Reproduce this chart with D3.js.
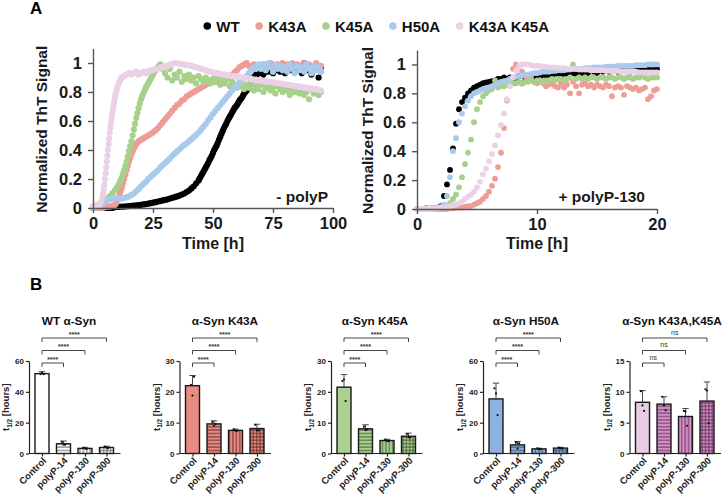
<!DOCTYPE html>
<html><head><meta charset="utf-8">
<script src="https://cdn.jsdelivr.net/npm/d3@7/dist/d3.min.js"></script>
<style>
body{margin:0;background:#fff}
svg{display:block}
text{font-family:"Liberation Sans",Arial,Helvetica,sans-serif}
</style>
</head><body>
<svg id="c" width="724" height="497"></svg>
<script>
// ---------- DATA: panel A (kinetics) ----------
const seriesNames = ["WT","K43A","K45A","H50A","K43A K45A"];
const seriesColors = ["#000000","#EE9D96","#A7D08B","#A8CAEC","#EBD1E5"];

const timesNoPolyP = d3.range(0, 96, 1); // hours, sampling grid
const wtNoPolyP = [0,0,0,0,0,0,0,0,0,0.005,
 0.007,0.008,0.01,0.01,0.012,0.013,0.015,0.017,0.018,0.02,
 0.022,0.025,0.027,0.03,0.033,0.037,0.04,0.044,0.048,0.052,
 0.056,0.06,0.065,0.07,0.075,0.08,0.086,0.093,0.1,0.11,
 0.12,0.135,0.15,0.17,0.19,0.22,0.25,0.28,0.31,0.345,
 0.38,0.415,0.45,0.49,0.53,0.565,0.6,0.63,0.66,0.69,
 0.71,0.74,0.76,0.79,0.81,0.84,0.87,0.9,0.92,0.93,
 0.95,0.92,0.96,0.94,0.97,0.93,0.95,0.98,0.94,0.96,
 0.93,0.97,0.95,0.99,0.94,0.96,0.98,0.93,1.0,0.95,
 0.97,0.92,0.98,0.96,0.9,0.97];
const k43aNoPolyP = [0,0,0,0,0,0.005,0.01,0.01,0.015,0.02,
 0.05,0.09,0.14,0.2,0.26,0.32,0.37,0.41,0.44,0.46,
 0.47,0.48,0.49,0.5,0.51,0.52,0.535,0.55,0.57,0.59,
 0.61,0.63,0.65,0.67,0.69,0.71,0.72,0.74,0.75,0.77,
 0.78,0.79,0.8,0.81,0.82,0.83,0.84,0.85,0.86,0.865,
 0.87,0.875,0.88,0.885,0.89,0.895,0.9,0.91,0.92,0.935,
 0.95,0.97,0.98,0.99,1.0,0.98,0.97,0.99,0.98,0.97,
 0.98,0.99,0.97,0.98,1.0,0.98,0.97,0.99,0.98,1.0,
 0.97,0.99,0.98,1.0,0.97,0.99,0.98,0.97,1.0,0.98,
 0.99,0.97,0.98,1.0,0.97,0.98];
const k45aNoPolyP = [0.01,0.015,0.02,0.03,0.04,0.05,0.065,0.08,0.1,0.12,
 0.14,0.17,0.21,0.26,0.32,0.39,0.46,0.54,0.62,0.69,
 0.75,0.79,0.83,0.86,0.89,0.92,0.95,0.97,0.99,0.96,
 0.93,0.9,0.96,0.88,0.92,0.9,0.94,0.87,0.91,0.89,
 0.92,0.88,0.9,0.86,0.91,0.89,0.87,0.9,0.88,0.86,
 0.89,0.87,0.9,0.85,0.88,0.86,0.89,0.84,0.87,0.85,
 0.83,0.86,0.84,0.82,0.85,0.83,0.86,0.81,0.84,0.82,
 0.85,0.8,0.83,0.84,0.81,0.83,0.79,0.84,0.82,0.8,
 0.83,0.81,0.78,0.82,0.8,0.83,0.79,0.81,0.78,0.8,
 0.75,0.82,0.79,0.81,0.78,0.8];
const h50aNoPolyP = [0,0.005,0.01,0.02,0.03,0.045,0.055,0.06,0.065,0.065,
 0.065,0.065,0.066,0.07,0.075,0.08,0.09,0.1,0.115,0.13,
 0.15,0.165,0.18,0.2,0.215,0.23,0.245,0.26,0.28,0.295,
 0.31,0.325,0.34,0.36,0.375,0.39,0.405,0.42,0.435,0.445,
 0.46,0.475,0.49,0.505,0.52,0.54,0.56,0.58,0.605,0.625,
 0.65,0.67,0.69,0.71,0.73,0.75,0.77,0.79,0.81,0.83,
 0.85,0.865,0.88,0.895,0.91,0.93,0.95,0.97,0.96,0.99,
 0.96,0.99,0.95,1.0,0.97,0.94,0.99,0.96,0.98,0.95,
 0.97,0.94,0.99,0.96,0.93,0.98,0.95,0.97,0.94,0.99,
 0.96,0.93,0.98,0.95,0.97,0.94];
const k43ak45aNoPolyP = [0.01,0.01,0.015,0.03,0.08,0.2,0.36,0.52,0.65,0.75,
 0.82,0.87,0.9,0.91,0.92,0.93,0.92,0.93,0.94,0.92,
 0.93,0.94,0.93,0.94,0.95,0.95,0.96,0.96,0.97,0.97,
 0.98,0.98,0.99,0.99,1.0,1.0,0.995,0.99,0.99,0.985,
 0.985,0.98,0.975,0.97,0.965,0.96,0.955,0.95,0.945,0.94,
 0.935,0.93,0.93,0.925,0.92,0.92,0.915,0.915,0.91,0.91,
 0.905,0.905,0.9,0.9,0.895,0.89,0.89,0.885,0.885,0.88,
 0.88,0.875,0.875,0.87,0.87,0.865,0.865,0.86,0.86,0.855,
 0.855,0.85,0.85,0.845,0.84,0.84,0.835,0.835,0.83,0.83,
 0.825,0.825,0.82,0.82,0.815,0.81];

// extra readings taken between grid points on the steep rising phases
const wtNoPolyPExtraTimes = d3.range(44.5, 69, 1);
const wtNoPolyPExtra = [0.205,0.235,0.265,0.295,0.33,0.36,0.4,0.43,0.47,0.51,0.55,0.58,0.615,
 0.645,0.675,0.7,0.725,0.75,0.775,0.8,0.825,0.855,0.885,0.91,0.925];
const k43aNoPolyPExtraTimes = d3.range(9.5, 20, 1);
const k43aNoPolyPExtra = [0.03,0.07,0.115,0.17,0.23,0.29,0.345,0.39,0.425,0.45,0.465];
const k45aNoPolyPExtraTimes = d3.range(10.5, 29, 1);
const k45aNoPolyPExtra = [0.155,0.19,0.235,0.29,0.355,0.425,0.5,0.58,0.655,0.72,0.77,0.81,
 0.845,0.875,0.905,0.935,0.96,0.98,0.975];
const k43ak45aNoPolyPExtraTimes = [2.5,3.5,4.25,4.5,4.75,5.25,5.5,5.75,6.25,6.5,6.75,7.25,7.5,7.75,
 8.25,8.5,8.75,9.25,9.5,9.75,10.5,11.5,12.5];
const k43ak45aNoPolyPExtra = [0.02,0.05,0.1,0.13,0.16,0.24,0.28,0.32,0.4,0.44,0.48,0.555,0.59,0.62,
 0.675,0.7,0.725,0.77,0.79,0.805,0.85,0.89,0.905];

const timesPolyP130 = d3.range(0, 20.01, 0.25); // hours, sampling grid
const wtPolyP130 = [0,0,0,0.005,0,0.005,0.005,0.01,
 0.02,0.09,0.17,0.27,0.42,0.59,0.69,0.74,0.77,0.8,0.82,0.84,
 0.85,0.86,0.87,0.875,0.88,0.885,0.89,0.9,0.9,0.91,0.9,0.91,
 0.88,0.9,0.92,0.87,0.91,0.89,0.92,0.9,0.92,0.91,0.93,0.92,
 0.93,0.92,0.94,0.93,0.92,0.94,0.93,0.95,0.94,0.93,0.95,0.94,
 0.95,0.94,0.96,0.95,0.94,0.96,0.95,0.96,0.95,0.97,0.96,0.95,
 0.96,0.97,0.96,0.95,0.97,0.96,0.97,0.96,0.98,0.97,0.96,0.97,
 0.97];
const k43aPolyP130 = [0,0,0,0,0,0,0,0,
 0,0,0,0.005,0.005,0.01,0.01,0.01,0.015,0.02,0.02,0.03,
 0.04,0.05,0.07,0.09,0.12,0.16,0.21,0.29,0.39,0.56,0.75,0.88,
 0.97,1.0,0.99,0.95,0.92,0.9,0.91,0.88,0.87,0.89,0.87,0.85,
 0.86,0.87,0.85,0.84,0.87,0.84,0.86,0.8,0.88,0.85,0.8,0.86,
 0.87,0.85,0.86,0.84,0.86,0.85,0.84,0.86,0.85,0.78,0.84,0.85,
 0.84,0.79,0.85,0.84,0.83,0.84,0.82,0.83,0.84,0.76,0.78,0.82,
 0.83];
const k45aPolyP130 = [0,0,0,0,0.005,0.005,0.01,0.01,
 0.01,0.015,0.02,0.04,0.07,0.1,0.15,0.22,0.31,0.39,0.48,0.6,
 0.69,0.74,0.78,0.8,0.82,0.83,0.89,0.84,0.85,0.85,0.86,0.86,
 0.87,0.87,0.88,0.87,0.88,0.88,0.89,0.88,0.89,0.89,0.88,0.89,
 0.89,0.9,0.89,0.9,0.9,0.89,0.9,0.91,1.0,0.9,0.91,0.9,
 0.91,0.9,0.91,0.91,0.9,0.91,0.91,0.9,0.91,0.91,0.9,0.91,
 0.91,0.9,0.91,0.91,0.9,0.91,0.91,0.92,0.91,0.9,0.91,0.91,
 0.91];
const h50aPolyP130 = [0,0,0,0,0,0.005,0.005,0.01,
 0.015,0.03,0.09,0.22,0.4,0.49,0.6,0.66,0.71,0.75,0.78,0.8,
 0.81,0.82,0.83,0.835,0.84,0.85,0.86,0.87,0.88,0.885,0.89,0.9,
 0.91,0.915,0.92,0.925,0.93,0.93,0.935,0.94,0.94,0.945,0.95,0.95,
 0.95,0.955,0.955,0.96,0.96,0.96,0.965,0.965,0.97,0.97,0.97,0.97,
 0.975,0.975,0.975,0.98,0.98,0.98,0.98,0.985,0.985,0.985,0.985,0.99,
 0.99,0.99,0.99,0.99,0.99,0.995,0.995,0.995,0.995,1.0,1.0,1.0,
 1.0];
const k43ak45aPolyP130 = [0,0,0,0,0,0,0.005,0.005,
 0.01,0.01,0.015,0.02,0.025,0.03,0.04,0.05,0.07,0.085,0.1,0.12,
 0.15,0.19,0.24,0.28,0.33,0.38,0.44,0.51,0.58,0.66,0.76,0.85,
 0.91,0.96,0.99,1.0,1.0,1.0,0.995,0.99,0.99,0.99,0.985,0.985,
 0.98,0.98,0.98,0.975,0.975,0.975,0.97,0.97,0.97,0.97,0.965,0.965,
 0.965,0.965,0.96,0.96,0.96,0.96,0.96,0.955,0.955,0.955,0.955,0.955,
 0.95,0.95,0.95,0.95,0.95,0.95,0.945,0.945,0.945,0.945,0.945,0.945,
 0.945];

const xTicksNoPolyP = [0,25,50,75,100];
const xTicksPolyP130 = [0,10,20];
const yTicksSignal = [0,0.2,0.4,0.6,0.8,1];

// ---------- DATA: panel B (t1/2 bars) ----------
const barCategories = ["Control","polyP-14","polyP-130","polyP-300"];
const panelTitles = ["WT α-Syn","α-Syn K43A","α-Syn K45A","α-Syn H50A","α-Syn K43A,K45A"];
const panelYMax = [60,30,30,60,15];
const panelYTicks = [[0,20,40,60],[0,10,20,30],[0,10,20,30],[0,20,40,60],[0,5,10,15]];
const wtMeans = [51.8,6.3,3.3,3.9],   wtSD = [1.2,1.8,0.7,0.8];
const k43aMeans = [22.0,9.6,7.5,8.1], k43aSD = [3.3,1.0,0.4,1.4];
const k45aMeans = [21.5,8.0,4.2,5.6], k45aSD = [4.1,1.3,0.4,1.0];
const h50aMeans = [35.4,5.6,3.0,3.5], h50aSD = [10.2,2.2,0.4,0.5];
const dblMeans = [8.3,8.0,6.0,8.5],   dblSD = [1.9,1.2,1.3,3.1];
const wtReps = [[51.5,52.5,51.4],[7.4,5.8,5.7],[3.7,3.3,2.9],[4.4,3.8,3.5]];
const k43aReps = [[22.3,18.8,24.9],[10.2,9.0,9.6],[7.8,7.4,7.3],[9.3,7.5,7.5]];
const k45aReps = [[23.5,24.0,17.0],[8.7,7.6,7.8],[4.5,4.1,4.0],[6.3,5.3,5.2]];
const h50aReps = [[42.3,39.0,24.9],[7.0,3.2,6.6],[3.3,3.0,2.7],[3.9,3.4,3.2]];
const dblReps = [[10.1,7.8,6.9],[9.2,7.8,7.0],[6.9,6.8,4.5],[10.4,10.2,4.9]];
const sigLabels = ["****","****","****","****","ns"];

// ---------- STYLE / LAYOUT ----------
const svg = d3.select("#c");
const FONT = '"Liberation Sans",Arial,sans-serif';
const axisColor = "#555";

svg.append("text").attr("x",30).attr("y",14).attr("font-size",17).attr("font-weight","bold").text("A");
svg.append("text").attr("x",30).attr("y",290).attr("font-size",17).attr("font-weight","bold").text("B");

// legend
{
  const lg = svg.append("g");
  let x = 207.3;
  seriesNames.forEach((n,i)=>{
    lg.append("circle").attr("cx",x).attr("cy",26).attr("r",3.8).attr("fill",seriesColors[i]);
    const t = lg.append("text").attr("x",x+9).attr("y",31.5).attr("font-size",15).attr("font-weight","bold").attr("fill","#111").text(n);
    const w = t.node().getComputedTextLength();
    x = x + 9 + w + 19.5;
  });
}

function kineticsChart(opt){
  const g = svg.append("g");
  const x = d3.scaleLinear().domain(opt.xDomain).range(opt.xRange);
  const y = d3.scaleLinear().domain([0,1.1]).range(opt.yRange);
  opt.series.forEach((parts,i)=>{
    const pts = [];
    parts.forEach(p=>p.values.forEach((v,k)=>pts.push([p.times[k],v])));
    g.append("g").selectAll("circle").data(pts)
      .join("circle").attr("cx",d=>x(d[0])).attr("cy",d=>y(d[1])).attr("r",opt.r)
      .attr("fill",seriesColors[i]);
  });
  const ya = g.append("g").attr("transform",`translate(${opt.xRange[0]},0)`)
    .call(d3.axisLeft(y).tickValues(yTicksSignal).tickFormat(d=>d===0?"0":d===1?"1":d3.format(".1f")(d)).tickSize(5).tickSizeOuter(0).tickPadding(6));
  const xa = g.append("g").attr("transform",`translate(0,${opt.yRange[0]})`)
    .call(d3.axisBottom(x).tickValues(opt.xTicks).tickSize(5).tickSizeOuter(0).tickPadding(4));
  [ya,xa].forEach(a=>{
    a.selectAll("path,line").attr("stroke",axisColor).attr("stroke-width",1.4);
    a.selectAll("text").attr("font-size",16.5).attr("font-weight","bold").attr("font-family",FONT).attr("fill","#1a1a1a");
  });
  g.append("text").attr("transform",`translate(${opt.yLabelX},${(opt.yRange[0]+opt.yRange[1])/2+1}) rotate(-90)`)
    .attr("text-anchor","middle").attr("font-size",15.5).attr("font-weight","bold").attr("fill","#1a1a1a").text("Normalized ThT Signal");
  g.append("text").attr("x",(opt.xRange[0]+opt.xRange[1])/2).attr("y",249)
    .attr("text-anchor","middle").attr("font-size",16).attr("font-weight","bold").attr("fill","#1a1a1a").text("Time [h]");
  g.append("text").attr("x",opt.noteX).attr("y",202).attr("text-anchor","end")
    .attr("font-size",15.5).attr("font-weight","bold").attr("fill","#1a1a1a").text(opt.note);
}

kineticsChart({series:[
    [{times:timesNoPolyP,values:wtNoPolyP},{times:wtNoPolyPExtraTimes,values:wtNoPolyPExtra}],
    [{times:timesNoPolyP,values:k43aNoPolyP},{times:k43aNoPolyPExtraTimes,values:k43aNoPolyPExtra}],
    [{times:timesNoPolyP,values:k45aNoPolyP},{times:k45aNoPolyPExtraTimes,values:k45aNoPolyPExtra}],
    [{times:timesNoPolyP,values:h50aNoPolyP}],
    [{times:timesNoPolyP,values:k43ak45aNoPolyP},{times:k43ak45aNoPolyPExtraTimes,values:k43ak45aNoPolyPExtra}]],
  xDomain:[0,100], xRange:[93,333], yRange:[208,48.5], xTicks:xTicksNoPolyP, yLabelX:47, note:"- polyP", noteX:328, r:3.1});
kineticsChart({series:[
    [{times:timesPolyP130,values:wtPolyP130}],
    [{times:timesPolyP130,values:k43aPolyP130}],
    [{times:timesPolyP130,values:k45aPolyP130}],
    [{times:timesPolyP130,values:h50aPolyP130}],
    [{times:timesPolyP130,values:k43ak45aPolyP130}]],
  xDomain:[0,20], xRange:[417,657], yRange:[209,50], xTicks:xTicksPolyP130, yLabelX:373, note:"+ polyP-130", noteX:645, r:2.9});

// ---------- panel B ----------
const panelMeans = [wtMeans,k43aMeans,k45aMeans,h50aMeans,dblMeans];
const panelSD = [wtSD,k43aSD,k45aSD,h50aSD,dblSD];
const panelReps = [wtReps,k43aReps,k45aReps,h50aReps,dblReps];
const panelAxisX = [29,179.5,331,483,629.5];
const panelTitleX = [69,225,375,526,672];
const controlFill = ["#FFFFFF","#E98A83","#AAD190","#8DB2DF","#E8CCE3"];
const patternFill = ["#FFFFFF","#E98A83","#AAD190","#8DB2DF","#D590C7"];
const patternLine = ["#555555","#5a2522","#3d5530","#2c4568","#5e2a55"];

const defs = svg.append("defs");
patternFill.forEach((c,i)=>{
  const s = 3.4;
  ["h","v","g"].forEach(t=>{
    const p = defs.append("pattern").attr("id",`pat${i}${t}`).attr("patternUnits","userSpaceOnUse").attr("width",s).attr("height",s);
    p.append("rect").attr("width",s).attr("height",s).attr("fill",c);
    if(t==="h"||t==="g") p.append("line").attr("x1",0).attr("x2",s).attr("y1",s/2).attr("y2",s/2).attr("stroke",patternLine[i]).attr("stroke-width",0.9);
    if(t==="v"||t==="g") p.append("line").attr("y1",0).attr("y2",s).attr("x1",s/2).attr("x2",s/2).attr("stroke",patternLine[i]).attr("stroke-width",0.9);
  });
});

const yBase = 453.5, yTop = 361;
panelTitles.forEach((title,i)=>{
  const g = svg.append("g");
  const ax = panelAxisX[i];
  const x = d3.scalePoint().domain(barCategories).range([ax+13, ax+13+64.5]);
  const y = d3.scaleLinear().domain([0,panelYMax[i]]).range([yBase,yTop]);
  const bw = 14;
  const fills = [controlFill[i], `url(#pat${i}h)`, `url(#pat${i}v)`, `url(#pat${i}g)`];
  barCategories.forEach((c,k)=>{
    const m = panelMeans[i][k], sd = panelSD[i][k];
    g.append("line").attr("x1",x(c)).attr("x2",x(c)).attr("y1",y(m)).attr("y2",y(m+sd)).attr("stroke","#444").attr("stroke-width",1);
    g.append("line").attr("x1",x(c)-3.2).attr("x2",x(c)+3.2).attr("y1",y(m+sd)).attr("y2",y(m+sd)).attr("stroke","#444").attr("stroke-width",1);
    g.append("rect").attr("x",x(c)-bw/2).attr("width",bw).attr("y",y(m)).attr("height",yBase-y(m))
      .attr("fill",fills[k]).attr("stroke","#1a1a1a").attr("stroke-width",1.4);
    panelReps[i][k].forEach((v,j)=>{
      g.append("circle").attr("cx",x(c)+(j-1)*1.6).attr("cy",y(v)).attr("r",1.1).attr("fill","#111");
    });
  });
  const ya = g.append("g").attr("transform",`translate(${ax},0)`)
    .call(d3.axisLeft(y).tickValues(panelYTicks[i]).tickSize(3).tickSizeOuter(0).tickPadding(2));
  const xa = g.append("g").attr("transform",`translate(0,${yBase})`)
    .call(d3.axisBottom(x).tickSize(3).tickSizeOuter(0).tickFormat(""));
  xa.select(".domain").attr("d",`M${ax},0H${ax+13+64.5+14}`);
  [ya,xa].forEach(a=>{
    a.selectAll("path,line").attr("stroke","#222").attr("stroke-width",1.2);
    a.selectAll("text").attr("font-size",8).attr("font-weight","bold").attr("font-family",FONT).attr("fill","#222");
  });
  barCategories.forEach(c=>{
    g.append("text").attr("transform",`translate(${x(c)+2.5},${yBase+5.5}) rotate(-45)`)
      .attr("text-anchor","end").attr("dy","0.35em").attr("font-size",9.5).attr("font-weight","bold").attr("fill","#222").text(c);
  });
  const yl = g.append("text").attr("transform",`translate(${ax-20},${(yBase+yTop)/2}) rotate(-90)`)
    .attr("text-anchor","middle").attr("font-size",9.5).attr("font-weight","bold").attr("fill","#222");
  yl.append("tspan").text("t");
  yl.append("tspan").attr("font-size",6.5).attr("dy",2.5).text("1/2");
  yl.append("tspan").attr("dy",-2.5).text(" [hours]");
  g.append("text").attr("x",panelTitleX[i]).attr("y",325).attr("text-anchor","middle")
    .attr("font-size",11.8).attr("font-weight","bold").attr("fill","#111").text(title);
  const levels = [363,350.5,338];
  [1,2,3].forEach((k,j)=>{
    const yy = levels[j], x0 = x(barCategories[0]), x1 = x(barCategories[k]);
    g.append("path").attr("d",`M${x0},${yy+4}V${yy}H${x1}V${yy+4}`).attr("fill","none").attr("stroke","#333").attr("stroke-width",0.9);
    const isNs = sigLabels[i]==="ns";
    g.append("text").attr("x",(x0+x1)/2).attr("y",isNs?yy-3.5:yy-1.2).attr("text-anchor","middle")
      .attr("font-size",7).attr("font-weight",isNs?"normal":"bold").attr("fill","#333").text(sigLabels[i]);
  });
});
</script>
</body></html>
